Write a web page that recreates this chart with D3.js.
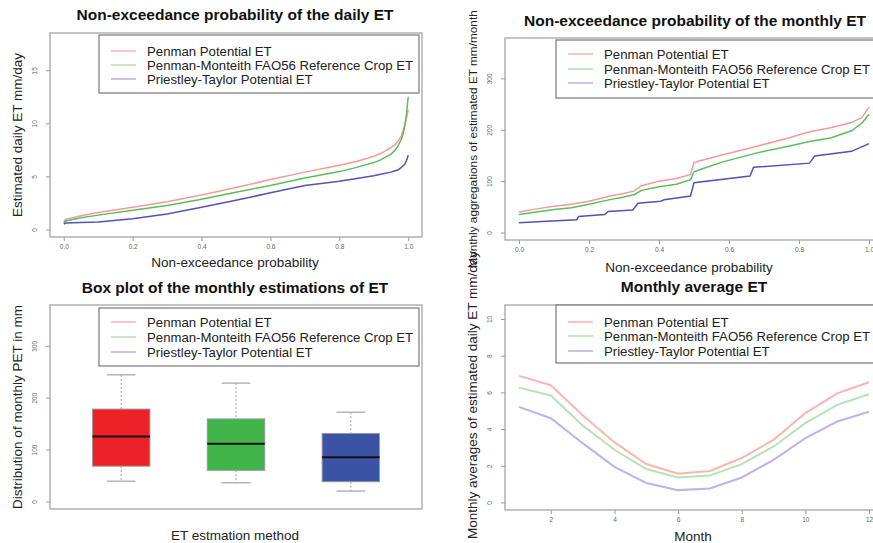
<!DOCTYPE html>
<html>
<head>
<meta charset="utf-8">
<script src="https://cdn.jsdelivr.net/npm/d3@7"></script>
<style>
body { margin: 0; background: #fff; }
svg text { font-family: "Liberation Sans", Arial, sans-serif; }
</style>
</head>
<body>
<div id="chart"></div>
<script>
const series_names = [
    'Penman Potential ET',
    'Penman-Monteith FAO56 Reference Crop ET',
    'Priestley-Taylor Potential ET'
]

// daily ET sorted, non-exceedance probability
const daily_prob = [0, 0.005, 0.05, 0.1, 0.2, 0.3, 0.4, 0.5, 0.6, 0.7, 0.8, 0.85, 0.9, 0.92, 0.95, 0.96, 0.97, 0.98, 0.985, 0.99, 0.995, 1.0]
const daily_penman = [0.7, 0.95, 1.3, 1.6, 2.1, 2.6, 3.25, 3.95, 4.7, 5.4, 6.05, 6.4, 6.9, 7.15, 7.7, 7.95, 8.3, 8.8, 9.3, 9.8, 10.5, 11.3]
const daily_fao56 = [0.6, 0.8, 1.1, 1.35, 1.8, 2.25, 2.85, 3.5, 4.15, 4.85, 5.45, 5.85, 6.3, 6.55, 7.1, 7.4, 7.85, 8.5, 9.0, 9.8, 10.9, 12.5]
const daily_pt = [0.5, 0.6, 0.65, 0.7, 1.0, 1.45, 2.1, 2.75, 3.45, 4.15, 4.55, 4.8, 5.05, 5.2, 5.4, 5.5, 5.6, 5.85, 6.0, 6.15, 6.5, 7.0]

// monthly ET sorted
const monthly_prob = [0, 0.05, 0.1, 0.15, 0.2, 0.26, 0.3, 0.33, 0.35, 0.4, 0.45, 0.49, 0.5, 0.52, 0.58, 0.68, 0.77, 0.83, 0.89, 0.95, 0.98, 1.0]
const monthly_penman = [40, 46, 51, 55, 61, 71, 76, 81, 91, 100, 105, 113, 136, 140, 151, 168, 184, 196, 204, 214, 224, 244]
const monthly_fao56 = [35, 40, 45, 48, 55, 64, 69, 74, 82, 89, 94, 103, 118, 123, 137, 155, 168, 177, 184, 198, 213, 230]
const pt_prob = [0, 0.08, 0.165, 0.17, 0.245, 0.255, 0.325, 0.34, 0.405, 0.415, 0.49, 0.5, 0.66, 0.67, 0.83, 0.845, 0.95, 1.0]
const monthly_pt = [19, 22, 25, 31, 35, 41, 44, 57, 61, 64, 71, 97, 110, 127, 135, 149, 158, 173]

// box plot stats of monthly ET
const box_min = [39, 36, 20]
const box_q1 = [68, 60, 38]
const box_median = [125, 111, 85]
const box_q3 = [178, 159, 131]
const box_max = [244, 228, 172]

// monthly averages of daily ET
const months = [1, 2, 3, 4, 5, 6, 7, 8, 9, 10, 11, 12]
const avg_penman = [6.9, 6.39, 4.75, 3.27, 2.09, 1.56, 1.71, 2.42, 3.41, 4.87, 5.95, 6.55]
const avg_fao56 = [6.26, 5.83, 4.2, 2.87, 1.82, 1.36, 1.47, 2.09, 3.05, 4.32, 5.32, 5.9]
const avg_pt = [5.21, 4.59, 3.23, 1.94, 1.06, 0.67, 0.76, 1.36, 2.32, 3.5, 4.41, 4.94]

const line_colors = ['#f59a9a', '#5cbd5c', '#5252b8']
const pale_colors = ['#ffb4b4', '#b6e2b6', '#bbb4ee']
const box_colors = ['#ec2227', '#3fb54a', '#3a53a5']

const chart_width = 873
const chart_height = 543

var svg = d3.select('#chart')
    .append('svg')
    .attr('width', chart_width)
    .attr('height', chart_height)

function panel(p){
    var g = svg.append('g')
    var x = d3.scaleLinear().domain(p.xdom).range([p.x0, p.x1])
    var y = d3.scaleLinear().domain(p.ydom).range([p.y1, p.y0])

    // x axis
    if (p.xticks){
        var xa = g.append('g')
            .attr('transform', 'translate(0,' + p.y1 + ')')
            .call(d3.axisBottom(x).tickValues(p.xticks).tickSize(4).tickSizeOuter(0).tickFormat(p.xfmt))
        xa.select('.domain').remove()
        xa.selectAll('line').attr('stroke', '#999')
        xa.selectAll('text').attr('fill', '#666').attr('font-size', 6.5).attr('dy', '0.6em').attr('y', 8)
    }
    // y axis
    var ya = g.append('g')
        .attr('transform', 'translate(' + p.x0 + ',0)')
        .call(d3.axisLeft(y).tickValues(p.yticks).tickSize(4).tickSizeOuter(0))
    ya.select('.domain').remove()
    ya.selectAll('line').attr('stroke', '#999')
    ya.selectAll('text')
        .attr('fill', '#666')
        .attr('font-size', 6.5)
        .attr('x', null).attr('dy', null)
        .attr('text-anchor', 'middle')
        .attr('transform', 'translate(-13,0) rotate(-90)')

    // frame
    g.append('rect')
        .attr('x', p.x0).attr('y', p.y0)
        .attr('width', p.x1 - p.x0).attr('height', p.y1 - p.y0)
        .attr('fill', 'none').attr('stroke', '#a5a5a5').attr('stroke-width', 1.3)

    // titles
    g.append('text').attr('x', p.tx).attr('y', p.ty)
        .attr('text-anchor', 'middle').attr('font-size', 15.5).attr('font-weight', 'bold')
        .attr('fill', '#111').text(p.title)
    g.append('text').attr('x', p.xlx).attr('y', p.xly)
        .attr('text-anchor', 'middle').attr('font-size', 13.5).attr('fill', '#222').text(p.xlab)
    g.append('text')
        .attr('transform', 'translate(' + p.ylx + ',' + p.yly + ') rotate(-90)')
        .attr('text-anchor', 'middle').attr('font-size', p.ysize || 13.5).attr('fill', '#222').text(p.ylab)

    return {g: g, x: x, y: y}
}

function legend(g, lx, ly, rows){
    var lg = g.append('g')
    lg.append('rect')
        .attr('x', lx).attr('y', ly).attr('width', 320).attr('height', 58)
        .attr('fill', '#fff').attr('stroke', '#777').attr('stroke-width', 1.2)
    series_names.forEach(function(name, i){
        lg.append('line')
            .attr('x1', lx + 12).attr('x2', lx + 37)
            .attr('y1', ly + rows[i]).attr('y2', ly + rows[i])
            .attr('stroke', pale_colors[i]).attr('stroke-width', 1.6)
        lg.append('text')
            .attr('x', lx + 48).attr('y', ly + rows[i]).attr('dy', '0.36em')
            .attr('font-size', 13.2).attr('fill', '#222').text(name)
    })
}

function drawLine(pn, xs, ys, color, w){
    var line = d3.line()
        .x(function(d, i){ return pn.x(xs[i]) })
        .y(function(d){ return pn.y(d) })
    pn.g.append('path')
        .datum(ys)
        .attr('d', line)
        .attr('fill', 'none')
        .attr('stroke', color)
        .attr('stroke-width', w)
}

var fmt1 = d3.format('.1f')

// Panel 1: daily
var p1 = panel({
    x0: 50, x1: 422, y0: 33, y1: 237,
    xdom: [-0.04, 1.04], ydom: [-0.712, 18.512],
    xticks: [0, 0.2, 0.4, 0.6, 0.8, 1.0], xfmt: fmt1,
    yticks: [0, 5, 10, 15],
    title: 'Non-exceedance probability of the daily ET', tx: 235, ty: 20,
    xlab: 'Non-exceedance probability', xlx: 235, xly: 267,
    ylab: 'Estimated daily ET mm/day', ylx: 22, yly: 135
})
drawLine(p1, daily_prob, daily_penman, line_colors[0], 1.5)
drawLine(p1, daily_prob, daily_fao56, line_colors[1], 1.5)
drawLine(p1, daily_prob, daily_pt, line_colors[2], 1.5)
legend(p1.g, 99, 35, [16, 30, 44])

// Panel 2: monthly
var p2 = panel({
    x0: 505, x1: 883, y0: 38, y1: 240,
    xdom: [-0.04, 1.04], ydom: [-14.56, 378.56],
    xticks: [0, 0.2, 0.4, 0.6, 0.8, 1.0], xfmt: fmt1,
    yticks: [0, 100, 200, 300],
    title: 'Non-exceedance probability of the monthly ET', tx: 695, ty: 26,
    xlab: 'Non-exceedance probability', xlx: 689, xly: 272,
    ylab: 'Monthly aggregations of estimated ET mm/month', ylx: 477, yly: 139, ysize: 11.8
})
drawLine(p2, monthly_prob, monthly_penman, line_colors[0], 1.5)
drawLine(p2, monthly_prob, monthly_fao56, line_colors[1], 1.5)
drawLine(p2, pt_prob, monthly_pt, line_colors[2], 1.5)
legend(p2.g, 556, 40, [14, 29, 43])

// Panel 3: box plot
var p3 = panel({
    x0: 50, x1: 422, y0: 305, y1: 509,
    xdom: [0.38, 3.62], ydom: [-14.56, 378.56],
    xticks: null,
    yticks: [0, 100, 200, 300],
    title: 'Box plot of the monthly estimations of ET', tx: 235, ty: 293,
    xlab: 'ET estmation method', xlx: 235, xly: 540,
    ylab: 'Distribution of monthly PET in mm', ylx: 22, yly: 407
})
var boxes = p3.g.append('g')
box_median.forEach(function(m, i){
    var cx = p3.x(i + 1)
    var hw = p3.x(1.25) - p3.x(1)
    var cw = hw / 2
    boxes.append('line')
        .attr('x1', cx).attr('x2', cx).attr('y1', p3.y(box_max[i])).attr('y2', p3.y(box_q3[i]))
        .attr('stroke', '#999').attr('stroke-dasharray', '2,2')
    boxes.append('line')
        .attr('x1', cx).attr('x2', cx).attr('y1', p3.y(box_q1[i])).attr('y2', p3.y(box_min[i]))
        .attr('stroke', '#999').attr('stroke-dasharray', '2,2')
    boxes.append('line')
        .attr('x1', cx - cw).attr('x2', cx + cw).attr('y1', p3.y(box_max[i])).attr('y2', p3.y(box_max[i]))
        .attr('stroke', '#aaa').attr('stroke-width', 1.3)
    boxes.append('line')
        .attr('x1', cx - cw).attr('x2', cx + cw).attr('y1', p3.y(box_min[i])).attr('y2', p3.y(box_min[i]))
        .attr('stroke', '#aaa').attr('stroke-width', 1.3)
    boxes.append('rect')
        .attr('x', cx - hw).attr('y', p3.y(box_q3[i]))
        .attr('width', 2 * hw).attr('height', p3.y(box_q1[i]) - p3.y(box_q3[i]))
        .attr('fill', box_colors[i]).attr('stroke', '#999').attr('stroke-width', 1)
    boxes.append('line')
        .attr('x1', cx - hw).attr('x2', cx + hw).attr('y1', p3.y(m)).attr('y2', p3.y(m))
        .attr('stroke', '#111').attr('stroke-width', 2)
})
legend(p3.g, 99, 308, [14, 29, 44])

// Panel 4: monthly averages
var p4 = panel({
    x0: 505, x1: 883, y0: 305, y1: 510,
    xdom: [0.56, 12.44], ydom: [-0.414, 10.764],
    xticks: [2, 4, 6, 8, 10, 12], xfmt: d3.format('d'),
    yticks: [0, 2, 4, 6, 8, 10],
    title: 'Monthly average ET', tx: 694, ty: 292,
    xlab: 'Month', xlx: 693, xly: 541,
    ylab: 'Monthly averages of estimated daily ET mm/day', ylx: 477, yly: 395
})
drawLine(p4, months, avg_penman, pale_colors[0], 2)
drawLine(p4, months, avg_fao56, pale_colors[1], 2)
drawLine(p4, months, avg_pt, pale_colors[2], 2)
legend(p4.g, 556, 305, [17, 31, 46])
</script>
</body>
</html>
